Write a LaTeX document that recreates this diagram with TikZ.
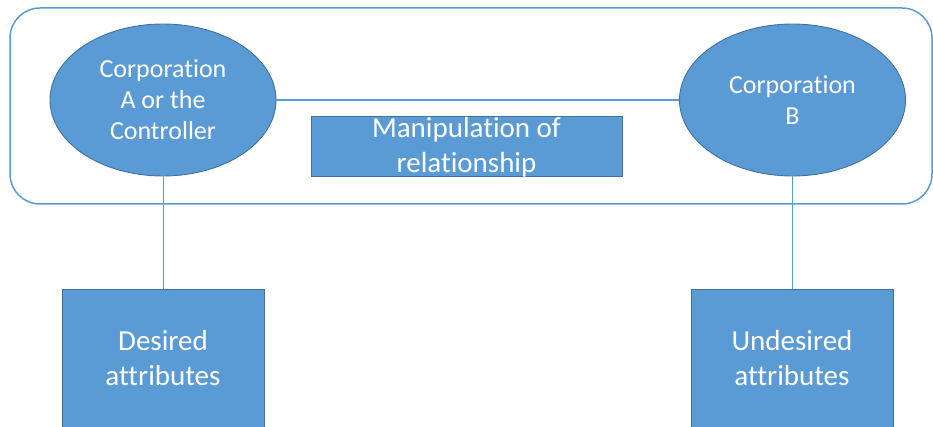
\documentclass[tikz,border=0pt]{standalone}
\usepackage{fontspec}
\setmainfont{Carlito}[Ligatures=NoCommon]
\usetikzlibrary{shapes.geometric}
\definecolor{obl}{HTML}{5B9BD5}
\definecolor{obd}{HTML}{41719C}
\begin{document}
\begin{tikzpicture}[x=1pt,y=-1pt,
  ent/.style={ellipse, draw=obd, line width=0.9pt, fill=obl, text=white, inner sep=0pt,
    minimum width=226pt, minimum height=152pt, align=center,
    font=\fontsize{26}{31}\selectfont},
  attr/.style={rectangle, draw=obd, line width=0.9pt, fill=obl, text=white, inner sep=0pt,
    minimum width=202pt, minimum height=138pt, align=center,
    font=\fontsize{29}{35}\selectfont},
  conn/.style={draw=obl, line width=0.9pt}]
\useasboundingbox (0,0) rectangle (933,427);
\node[draw=obl, line width=1.5pt, rounded corners=30pt, minimum width=922pt, minimum height=196pt, inner sep=0pt] (frame) at (471,106) {};
\node[ent] (a) at (163,100) {Corporation\\A or the\\Controller};
\node[ent] (b) at (792.5,100) {Corporation\\B};
\node[rectangle, draw=obd, line width=0.9pt, fill=obl, minimum width=311pt, minimum height=60pt, inner sep=0pt] (m) at (466.5,146) {};
\node[text=white, align=center, inner sep=0pt, font=\fontsize{29}{35}\selectfont] (mt) at (466.5,147) {Manipulation of\\relationship};
\node[attr] (d) at (163,358) {Desired\\attributes};
\node[attr] (u) at (792,358) {Undesired\\attributes};
\draw[conn, line width=1.5pt] (a.east) -- (b.west);
\draw[conn] (a.south) -- (d.north);
\draw[conn] (b.south) -- (b.south |- u.north);
\end{tikzpicture}
\end{document}
